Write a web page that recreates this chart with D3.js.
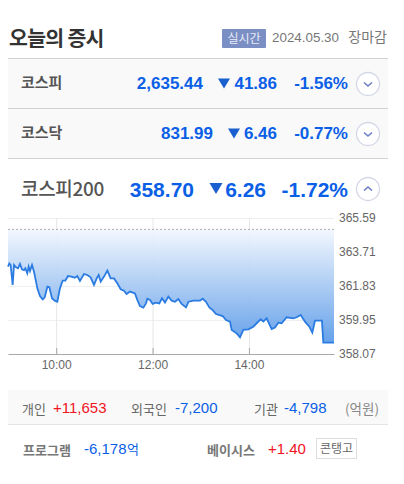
<!DOCTYPE html>
<html>
<head>
<meta charset="utf-8">
<style>
    html, body { margin: 0; padding: 0; background: #fff; }
    svg { display: block; }
    text { font-family: "Liberation Sans", "Noto Sans CJK KR", sans-serif; }
    .ko { font-family: "Noto Sans CJK KR", sans-serif; }
</style>
<script src="https://cdn.jsdelivr.net/npm/d3@7"></script>
</head>
<body>
<svg id="chart" width="404" height="484"></svg>
<script>
// minutes after 09:00
const minutes = [
    0, 1.7, 3.3, 5.8, 7.5, 10, 12.5, 14.9, 17.4, 19.9, 21.6, 24, 25.7, 27.4, 29.9, 32.4, 34.9, 36.5, 39.8, 43.2,
    45.7, 49, 51.5, 54.8, 58.1, 61.4, 64.7, 68.1, 71.4, 74.7, 78.9, 83, 86.3, 89.6, 94.6, 98.8, 102.9, 107.1, 110.4, 112.9,
    115.4, 119.5, 123.7, 127.8, 132, 136.1, 140.3, 144.4, 147.7, 151.9, 158.1, 161, 164.3, 168.5, 171.8, 173.5, 176.8, 180.1, 184.3, 188.4,
    191.7, 195.5, 199.6, 203.8, 207.9, 212.1, 216.2, 221.6, 224.9, 230.7, 239, 242.4, 246.5, 250.7, 254.8, 259, 267.3, 271.4, 276.4, 278.5,
    284.7, 288.9, 293, 299.3, 305.4, 309.6, 314.6, 317.9, 322, 328.3, 332.4, 336.6, 340.7, 346.9, 355.2, 359.4, 364.4, 369.8, 375.2, 378.9,
    382.2, 390.9, 392.6, 405.9,
];
const prices = [
    362.90, 363.08, 362.99, 361.89, 362.99, 362.86, 362.81, 363.05, 362.75, 362.71, 362.81, 362.53, 362.90, 362.66, 362.99, 362.62, 362.07, 361.70, 361.28, 361.09,
    361.20, 361.79, 361.76, 361.15, 361.02, 360.96, 361.70, 362.13, 362.13, 362.38, 362.35, 362.29, 362.38, 362.11, 362.49, 362.44, 362.31, 361.89, 362.25, 362.44,
    362.07, 362.35, 362.68, 362.25, 362.25, 361.98, 361.65, 361.57, 361.39, 361.52, 361.42, 361.06, 360.72, 360.63, 360.87, 361.13, 361.06, 360.84, 360.91, 360.87,
    361.15, 360.91, 361.24, 361.02, 360.96, 361.11, 360.84, 360.65, 360.96, 361.02, 361.02, 361.13, 360.96, 360.65, 360.50, 360.28, 360.17, 359.95, 359.86, 359.40,
    359.21, 358.99, 359.40, 359.43, 359.58, 359.77, 359.99, 359.86, 360.04, 359.45, 359.53, 359.80, 359.77, 360.10, 360.04, 360.10, 360.23, 359.86, 359.58, 359.25,
    359.91, 359.91, 358.70, 358.70,
];
const prevClose = 364.96;
const yTicks = [358.07, 359.95, 361.83, 363.71, 365.59];
const xTicks = [60, 180, 300];
const xTickLabels = ['10:00', '12:00', '14:00'];

const indexNames = ['코스피', '코스닥', '코스피200'];
const indexValues = ['2,635.44', '831.99', '358.70'];
const indexDrops = ['41.86', '6.46', '6.26'];
const indexRates = ['-1.56%', '-0.77%', '-1.72%'];

const BLUE = '#0b5fe6';
const RED = '#f0141e';
const GREY = '#666';

const svg = d3.select('#chart');

function label(x, y, str, opts = {}) {
    return svg.append('text')
        .attr('x', x)
        .attr('y', y)
        .attr('class', opts.ko ? 'ko' : null)
        .attr('text-anchor', opts.anchor || 'start')
        .attr('font-size', opts.size || 13)
        .attr('font-weight', opts.bold ? (opts.bold === true ? 700 : opts.bold) : 400)
        .attr('letter-spacing', opts.spacing || null)
        .attr('fill', opts.fill || GREY)
        .text(str);
}

// header
label(9, 46, '오늘의 증시', { ko: true, size: 20.5, bold: true, fill: '#333', spacing: -0.7 });
svg.append('rect').attr('x', 222).attr('y', 29).attr('width', 44).attr('height', 19).attr('rx', 1).attr('fill', '#7b8fc4');
label(244, 43, '실시간', { ko: true, size: 12, anchor: 'middle', fill: '#e8ecf6' });
label(272, 42, '2024.05.30', { size: 13.4, fill: '#777' });
label(387, 41.5, '장마감', { ko: true, size: 14, anchor: 'end', fill: '#777' });

// index rows
svg.append('rect').attr('x', 8).attr('y', 59).attr('width', 380).attr('height', 99).attr('fill', '#f9f9f9');
[58.5, 108.5, 158.5].forEach((y) => {
    svg.append('line').attr('x1', 8).attr('x2', 388).attr('y1', y).attr('y2', y).attr('stroke', '#d2d2d6');
});

const rows = [
    { base: 89, size: 17, nameSize: 15, valueEnd: 203, dropEnd: 277, triX: 224, triY: 83.5, tri: 6 },
    { base: 139, size: 17, nameSize: 15, valueEnd: 213, dropEnd: 277, triX: 234, triY: 133.5, tri: 6 },
    { base: 197, size: 21, nameSize: 19, valueEnd: 194, dropEnd: 266, triX: 216, triY: 188.5, tri: 6.5 },
];
rows.forEach((r, i) => {
    label(21, r.base - 1, indexNames[i], { ko: true, size: r.nameSize, bold: i < 2 ? true : 500, fill: '#555', spacing: i === 2 ? -0.3 : null });
    label(r.valueEnd, r.base, indexValues[i], { size: r.size, bold: true, anchor: 'end', fill: BLUE });
    svg.append('path')
        .attr('d', d3.line()([[r.triX - r.tri, r.triY - r.tri + 1], [r.triX + r.tri, r.triY - r.tri + 1], [r.triX, r.triY + r.tri - 1]]) + 'Z')
        .attr('fill', '#1a5fd0');
    label(r.dropEnd, r.base, indexDrops[i], { size: r.size, bold: true, anchor: 'end', fill: BLUE });
    label(348, r.base, indexRates[i], { size: r.size, bold: true, anchor: 'end', fill: BLUE });

    const cy = [84, 134, 189][i];
    svg.append('circle').attr('cx', 368).attr('cy', cy).attr('r', 11.5).attr('fill', '#fff').attr('stroke', '#d4d7e6').attr('stroke-width', 1.3);
    const dir = i === 2 ? -1 : 1;
    svg.append('path')
        .attr('d', d3.line()([[364, cy - dir * 1.5], [368, cy + dir * 2], [372, cy - dir * 1.5]]))
        .attr('fill', 'none').attr('stroke', '#6a7fc0').attr('stroke-width', 1.6);
});

// chart
const xScale = d3.scaleLinear().domain([0, 405.9]).range([8, 334]);
const yScale = d3.scaleLinear().domain([358.07, 365.59]).range([354, 218]);

const grad = svg.append('defs').append('linearGradient')
    .attr('id', 'areaFill')
    .attr('gradientUnits', 'userSpaceOnUse')
    .attr('x1', 0).attr('x2', 0)
    .attr('y1', yScale(prevClose)).attr('y2', yScale(358.07));
grad.append('stop').attr('offset', 0).attr('stop-color', '#f2f7fe');
grad.append('stop').attr('offset', 1).attr('stop-color', '#4f93e6');

const points = minutes.map((m, i) => [m, prices[i]]);

// grid
svg.append('g').selectAll('line').data(yTicks.slice(1)).join('line')
    .attr('x1', 8).attr('x2', 334)
    .attr('y1', (d) => yScale(d) + 0.5).attr('y2', (d) => yScale(d) + 0.5)
    .attr('stroke', '#efefef');
svg.append('g').selectAll('line').data(xTicks).join('line')
    .attr('x1', (d) => xScale(d) + 0.5).attr('x2', (d) => xScale(d) + 0.5)
    .attr('y1', 218).attr('y2', 354)
    .attr('stroke', '#e6e6e6');

svg.append('path')
    .datum(points)
    .attr('d', d3.area().x((d) => xScale(d[0])).y0(yScale(prevClose)).y1((d) => yScale(d[1])))
    .attr('fill', 'url(#areaFill)')
    .attr('fill-opacity', 0.95);

svg.append('line')
    .attr('x1', 8).attr('x2', 334)
    .attr('y1', yScale(prevClose)).attr('y2', yScale(prevClose))
    .attr('stroke', '#a9a9b2').attr('stroke-dasharray', '2,2');

svg.append('path')
    .datum(points)
    .attr('d', d3.line().x((d) => xScale(d[0])).y((d) => yScale(d[1])))
    .attr('fill', 'none')
    .attr('stroke', '#2b7ce2')
    .attr('stroke-width', 1.8);

// axes
const xAxis = d3.axisBottom(xScale)
    .tickValues(xTicks)
    .tickFormat((d, i) => xTickLabels[i])
    .tickSizeInner(-6)
    .tickSizeOuter(0)
    .tickPadding(6);
const xAxisG = svg.append('g').attr('transform', 'translate(0,354)').call(xAxis);
xAxisG.select('.domain').attr('stroke', '#a8a8a8').attr('stroke-width', 1.2);
xAxisG.selectAll('.tick line').attr('stroke', '#a8a8a8');
xAxisG.selectAll('text').attr('font-size', 12).attr('fill', GREY).attr('font-family', '"Liberation Sans"');

const yAxis = d3.axisRight(yScale)
    .tickValues(yTicks)
    .tickFormat(d3.format('.2f'))
    .tickSize(0)
    .tickPadding(5);
const yAxisG = svg.append('g').attr('transform', 'translate(334,0)').call(yAxis);
yAxisG.select('.domain').remove();
yAxisG.selectAll('text').attr('font-size', 12).attr('fill', GREY).attr('font-family', '"Liberation Sans"');

// investors
svg.append('rect').attr('x', 8).attr('y', 390).attr('width', 380).attr('height', 34).attr('fill', '#f9f9f9');
svg.append('line').attr('x1', 8).attr('x2', 388).attr('y1', 424.5).attr('y2', 424.5).attr('stroke', '#e4e4e4');
label(22, 414, '개인', { ko: true, size: 13 });
label(53, 413, '+11,653', { size: 15, fill: RED });
label(131, 414, '외국인', { ko: true, size: 13 });
label(175, 413, '-7,200', { size: 15, fill: BLUE });
label(254, 414, '기관', { ko: true, size: 13 });
label(284, 413, '-4,798', { size: 15, fill: BLUE });
label(379, 413.5, '(억원)', { ko: true, size: 13.5, anchor: 'end', fill: '#888' });

// program, basis
label(23, 455, '프로그램', { ko: true, size: 13, bold: true, fill: '#777' });
label(84, 454, '-6,178', { size: 15, fill: BLUE });
label(127, 454, '억', { ko: true, size: 13, fill: BLUE });
label(207, 455, '베이시스', { ko: true, size: 13, bold: true, fill: '#777' });
label(268, 454, '+1.40', { size: 15, fill: RED });
svg.append('rect').attr('x', 316.5).attr('y', 438.5).attr('width', 40).attr('height', 20).attr('fill', '#fff').attr('stroke', '#ddd');
label(336.5, 453, '콘탱고', { ko: true, size: 12, anchor: 'middle', fill: '#666' });
</script>
</body>
</html>
